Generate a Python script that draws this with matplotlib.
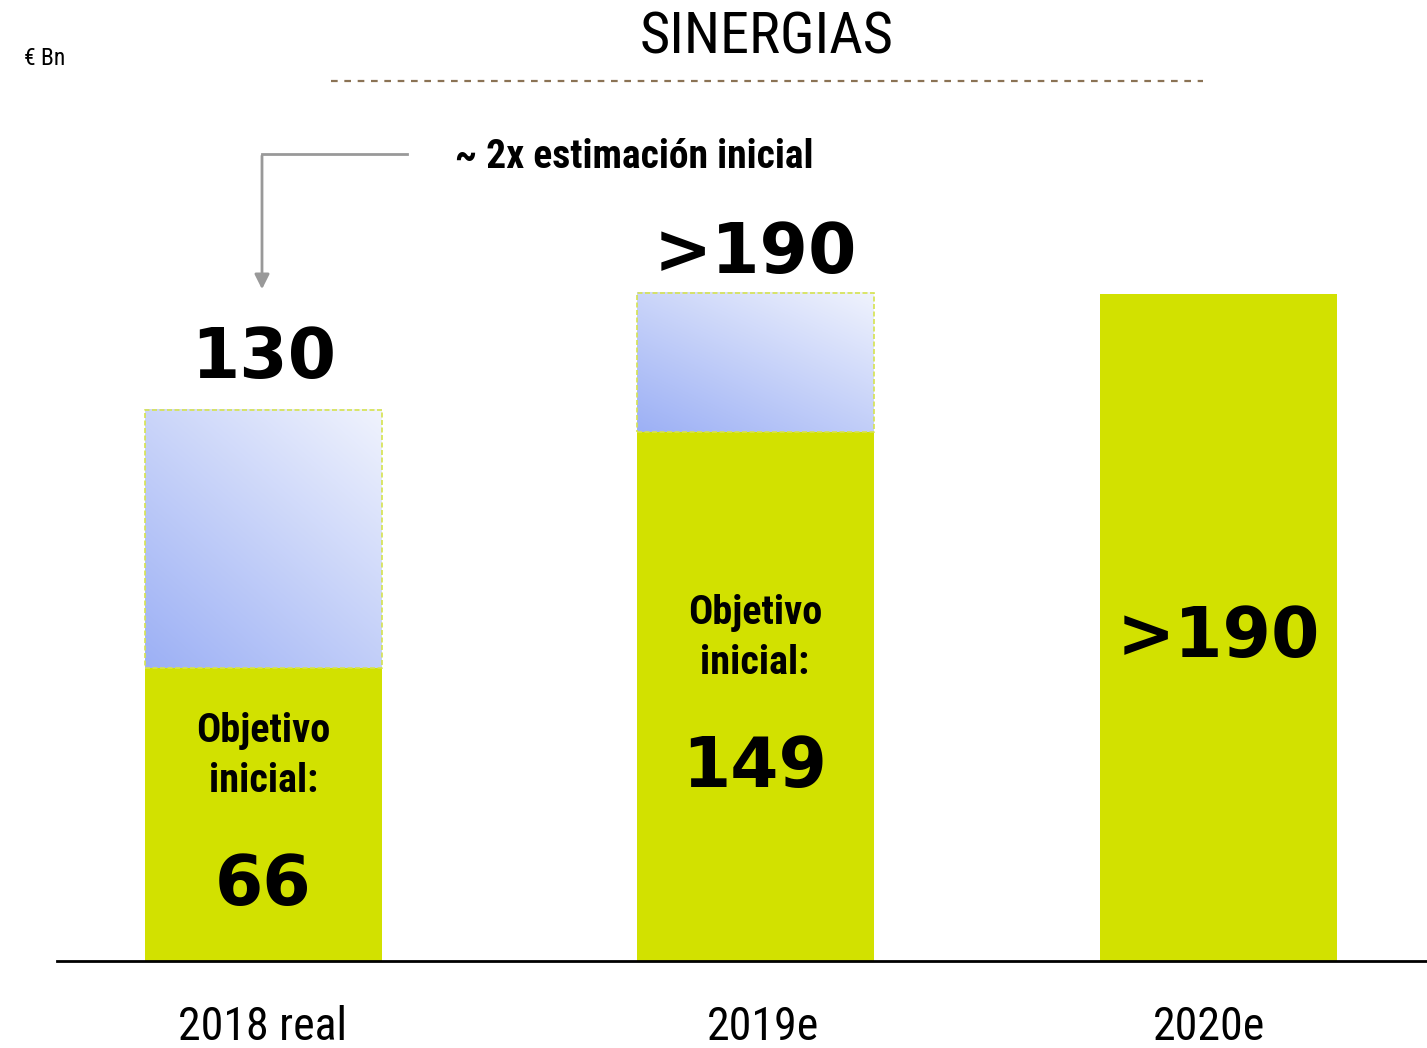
import numpy as np
import matplotlib
matplotlib.use('Agg')
import matplotlib.pyplot as plt
from matplotlib import font_manager
from matplotlib.colors import to_rgb

# data (heights as drawn in the chart, labels as printed)
categories = ['2018 real', '2019e', '2020e']
initial_target = [83.5, 150.7, 190.0]      # green part
total_height = [157.0, 190.3, None]         # top of the blue (gradient) part
initial_labels = ['66', '149', '>190']
total_labels = ['130', '>190', None]

names = {f.name for f in font_manager.fontManager.ttflist}
narrow = 'DejaVu Sans'
for cand in ['DejaVu Sans Condensed', 'Liberation Sans Narrow', 'Roboto Condensed', 'Open Sans Condensed']:
    if cand in names:
        narrow = cand
        break

GREEN = '#d2e100'
PX = 667 / 190.0          # pixels per unit
BASE = 961                # baseline in pixels from top
H = 1048


def py(y_px):
    return (BASE - y_px) / PX


fig = plt.figure(figsize=(14.27, 10.48), dpi=100)
ax = fig.add_axes([0, 0, 1, 1])
ax.set_xlim(0, 1427)
ax.set_ylim(py(H), py(0))
ax.axis('off')

xpos = [263.5, 755, 1218]
width = 237

ax.bar(xpos, initial_target, width=width, color=GREEN, zorder=2)

# gradient boxes on top
c0 = np.array(to_rgb('#9cb0f5'))
c1 = np.array(to_rgb('#f0f3fd'))
n = 200
gx, gy = np.meshgrid(np.linspace(0, 1, n), np.linspace(0, 1, n))
t = np.clip((gx * 0.8 + gy * 1.0) / 1.8, 0, 1)
grad = c0[None, None, :] * (1 - t[..., None]) + c1[None, None, :] * t[..., None]
for x, g, tot in zip(xpos, initial_target, total_height):
    if tot is None:
        continue
    x0, x1 = x - width / 2, x + width / 2
    ax.imshow(grad, extent=(x0, x1, g, tot), origin='lower', aspect='auto', zorder=1)
    ax.add_patch(plt.Rectangle((x0, g), width, tot - g, fill=False, edgecolor='#d6e34f',
                               linestyle=(0, (3, 1.5)), linewidth=1.2, zorder=3))
ax.set_xlim(0, 1427)
ax.set_ylim(py(H), py(0))

# baseline
ax.plot([57, 1427], [0, 0], color='black', linewidth=2, zorder=4)

# value labels
big = dict(fontsize=50, fontweight='bold', family='DejaVu Sans', ha='center', va='center', color='black')
for x, lab, tot in zip(xpos, total_labels, total_height):
    if lab is not None:
        ax.text(x, tot + (51 if lab == '130' else 39) / PX, lab, **big)

mid = dict(fontsize=29, fontweight='bold', family=narrow, ha='center', va='center', color='black')
ax.text(xpos[0], py(731), 'Objetivo', **mid)
ax.text(xpos[0], py(781), 'inicial:', **mid)
ax.text(xpos[0], py(885), initial_labels[0], **big)
ax.text(xpos[1], py(613), 'Objetivo', **mid)
ax.text(xpos[1], py(663), 'inicial:', **mid)
ax.text(xpos[1], py(767), initial_labels[1], **big)
ax.text(xpos[2], py(637), initial_labels[2], **big)

# category labels
for x, c in zip([263, 763, 1209], categories):
    ax.text(x, py(1027), c, fontsize=33, family=narrow, ha='center', va='center')

# title and unit
ax.text(767, py(38), 'SINERGIAS', fontsize=42, family=narrow, ha='center', va='center')
ax.plot([331, 1203], [py(81), py(81)], color='#8b7355', linestyle=(0, (3, 3)), linewidth=1.6)
ax.text(24, py(58), '€ Bn', fontsize=17, family=narrow, ha='left', va='center')

# annotation arrow
ax.plot([407, 262], [py(154), py(154)], color='#999999', linewidth=2)
ax.annotate('', xy=(262, py(292)), xytext=(262, py(153)),
            arrowprops=dict(arrowstyle='-|>', color='#999999', lw=2, mutation_scale=22))
ax.text(455, py(157), '~ 2x estimación inicial', fontsize=28.5, fontweight='bold', family=narrow,
        ha='left', va='center')

fig.savefig('out.png', dpi=100)
